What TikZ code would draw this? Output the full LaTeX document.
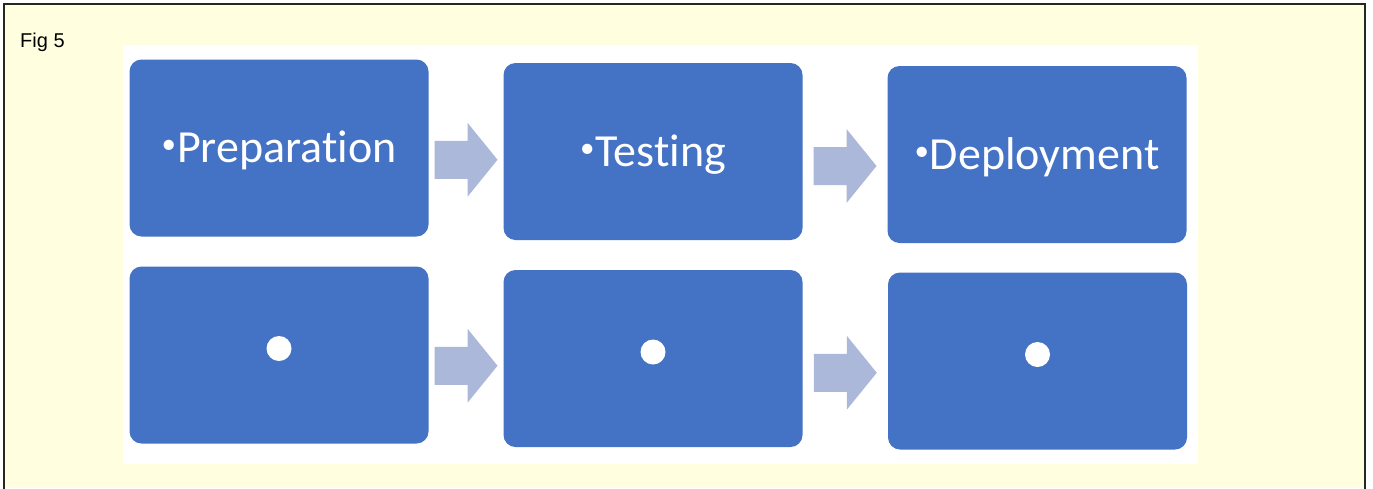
\documentclass[tikz,border=0pt]{standalone}
\usepackage{fontspec}
\setmainfont{Liberation Sans}
\newfontfamily\carlito[Ligatures=NoCommon]{Carlito}
\usetikzlibrary{calc}
\definecolor{paper}{RGB}{255,255,224}
\definecolor{boxblue}{RGB}{68,114,196}
\definecolor{arrowblue}{RGB}{171,184,218}
\newcommand{\stagebullet}{\raisebox{9pt}{\fontsize{29}{34}\selectfont •}\kern1pt}
\begin{document}
\begin{tikzpicture}[x=1pt, y=-1pt, line join=round, line cap=round,
		stage/.style={fill=boxblue, rounded corners=12pt, minimum width=299pt, minimum height=177pt, inner sep=0pt, text=white, font=\carlito\fontsize{46}{54}\selectfont, text height=29pt, text depth=0pt},
		flow/.style={fill=arrowblue}]
	\useasboundingbox (0,0) rectangle (1373,488);
	\fill[paper] (4,4) rectangle (1365,488);
	\draw[line width=2pt, black!85, line cap=butt, line join=miter] (4,490) -- (4,4) -- (1365,4) -- (1365,490);
	\node[anchor=base west, inner sep=0pt, font=\fontsize{20}{24}\selectfont] (fig) at (20,47) {Fig 5};
	\fill[white] (123,45) rectangle (1198,464);
	% top row
	\node[stage] (prep) at (279,148) {\stagebullet Preparation};
	\node[stage] (test) at (653,151.5) {\stagebullet Testing};
	\node[stage] (deploy) at (1037,154.5) {\stagebullet Deployment};
	% bottom row
	\node[stage] (prepsub) at (279,355) {};
	\node[stage] (testsub) at (653,358.5) {};
	\node[stage] (deploysub) at (1037.5,361) {};
	\fill[white] ([yshift=6.5pt]prepsub.center) circle (12.5pt);
	\fill[white] ([yshift=6.5pt]testsub.center) circle (12.5pt);
	\fill[white] ([yshift=6.5pt]deploysub.center) circle (12.5pt);
	% block arrows
	\foreach \from/\to/\drop in {prep/test/10, test/deploy/13, prepsub/testsub/9, testsub/deploysub/13}
		\fill[flow] let \p1=($(\from.east)!0.5!(\to.west)+(0,\drop)$) in
			(\x1-31.5pt,\y1+19pt) -- (\x1+1.5pt,\y1+19pt) -- (\x1+1.5pt,\y1+37pt) -- (\x1+31.5pt,\y1)
			-- (\x1+1.5pt,\y1-37pt) -- (\x1+1.5pt,\y1-19pt) -- (\x1-31.5pt,\y1-19pt) -- cycle;
\end{tikzpicture}
\end{document}
